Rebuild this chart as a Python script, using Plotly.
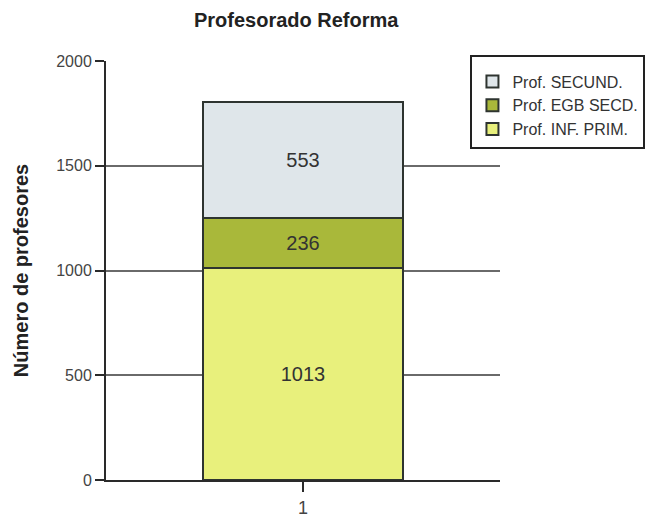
import plotly.graph_objects as go

categories = ['1']
series_names = ['Prof. INF. PRIM.', 'Prof. EGB SECD.', 'Prof. SECUND.']
series_values = [[1013], [236], [553]]
colors = ['#e8f07c', '#a9b83a', '#dfe6ea']

FONT = 'Liberation Sans, Arial, sans-serif'

fig = go.Figure()
for name, vals, col in zip(series_names, series_values, colors):
    fig.add_trace(go.Bar(
        x=categories,
        y=vals,
        name=name,
        text=[str(v) for v in vals],
        textposition='inside',
        insidetextanchor='middle',
        textfont=dict(family=FONT, size=20, color='#333333'),
        marker=dict(color=col, line=dict(color='#2e3430', width=2)),
        width=0.51,
    ))

# page has an 8px body margin, so the figure is sized and offset to suit
fig.update_layout(
    barmode='stack',
    width=655,
    height=522,
    title=dict(text='<b>Profesorado Reforma</b>', x=0.44, xanchor='center',
               y=0.99, yanchor='top',
               font=dict(family=FONT, size=20, color='#222222')),
    font=dict(family=FONT, size=16, color='#444444'),
    margin=dict(l=87, r=163, t=53, b=45),
    paper_bgcolor='white',
    plot_bgcolor='white',
    showlegend=True,
    legend=dict(traceorder='reversed', x=0.925, y=1.015, xanchor='left', yanchor='top',
                bordercolor='#222222', borderwidth=2, bgcolor='white',
                font=dict(family=FONT, size=16, color='#333333'),
                title=dict(text=' ', font=dict(size=6)),
                entrywidth=140, tracegroupgap=0),
    yaxis=dict(range=[0, 2000], tickvals=[0, 500, 1000, 1500, 2000],
               showgrid=True, gridcolor='#6a6a6a', gridwidth=1.5,
               showline=True, linecolor='#2a2a2a', linewidth=2,
               ticks='outside', ticklen=9, tickcolor='#2a2a2a', tickwidth=2,
               zeroline=False,
               title=dict(text='<b>Número de profesores</b>', standoff=22,
                          font=dict(family=FONT, size=20, color='#222222'))),
    xaxis=dict(type='category', range=[-0.5, 0.5],
               showline=True, linecolor='#2a2a2a', linewidth=2,
               ticks='outside', ticklen=10, tickcolor='#2a2a2a', tickwidth=2,
               tickfont=dict(size=18)),
)

fig.write_html("out.html")
